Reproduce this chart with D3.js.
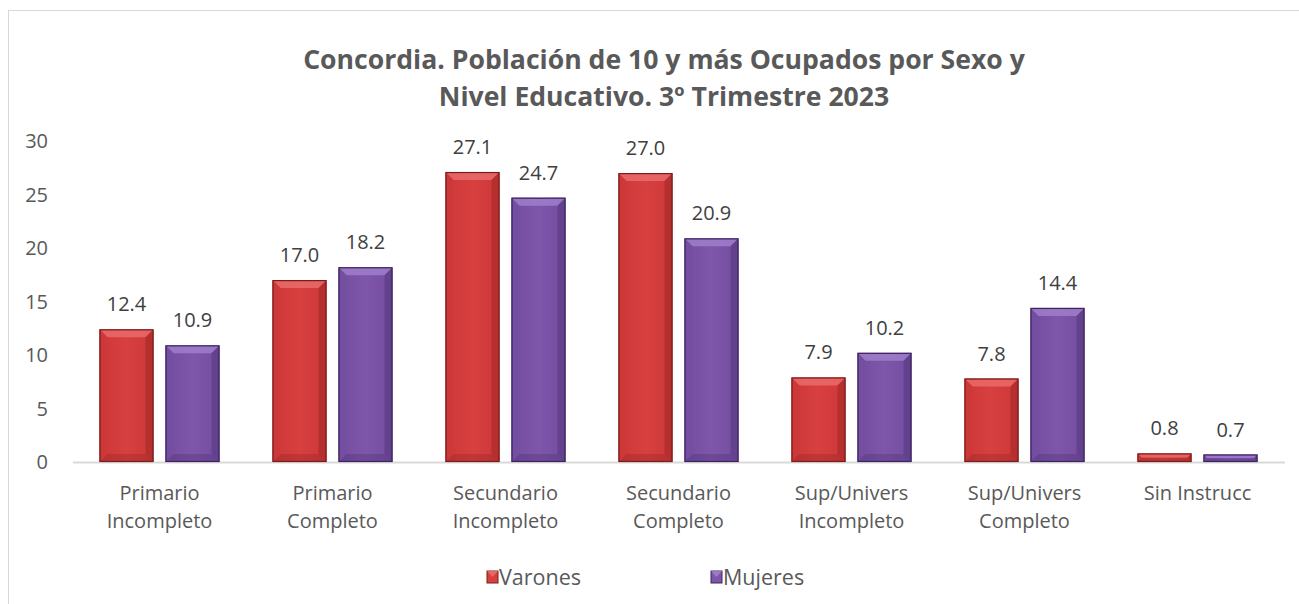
<!DOCTYPE html>
<html><head><meta charset="utf-8">
<script src="https://cdn.jsdelivr.net/npm/d3@7"></script>
<style>body{margin:0;background:#fff}svg{display:block}</style>
</head><body>
<svg id="c" width="1299" height="604"></svg>
<script>
const categories = [["Primario","Incompleto"],["Primario","Completo"],["Secundario","Incompleto"],["Secundario","Completo"],["Sup/Univers","Incompleto"],["Sup/Univers","Completo"],["Sin Instrucc"]];
const varones = [12.4,17.0,27.1,27.0,7.9,7.8,0.8];
const mujeres = [10.9,18.2,24.7,20.9,10.2,14.4,0.7];
const yTicks = [0,5,10,15,20,25,30];
const seriesNames = ["Varones","Mujeres"];
const titleLines = ["Concordia. Población de 10 y más Ocupados por Sexo y","Nivel Educativo. 3º Trimestre 2023"];

const svg = d3.select("#c");
const W=1299,H=604;
const FONT="Open Sans, sans-serif";
svg.append("rect").attr("x",8.5).attr("y",10.5).attr("width",W+10).attr("height",H+10).attr("fill","#fff").attr("stroke","#d9d9d9").attr("stroke-width",1);

const x0 = d3.scaleBand().domain(d3.range(categories.length)).range([73,1284]);
const y = d3.scaleLinear().domain([0,30]).range([462,141]);
const bw=54, gap=12;

const defs = svg.append("defs");
const colors = [{base:"#d84040",dark:"#7a1c1c",light:"#ec7272",mid:"#cc3737"},{base:"#7e56aa",dark:"#3d2460",light:"#a584cf",mid:"#734d9f"}];
colors.forEach((c,i)=>{
  const g=defs.append("linearGradient").attr("id","g"+i).attr("x1",0).attr("x2",1).attr("y1",0).attr("y2",0);
  g.append("stop").attr("offset","0%").attr("stop-color",c.mid);
  g.append("stop").attr("offset","50%").attr("stop-color",c.base);
  g.append("stop").attr("offset","100%").attr("stop-color",c.mid);
});

svg.append("line").attr("x1",73).attr("x2",1285).attr("y1",y(0)+0.5).attr("y2",y(0)+0.5).attr("stroke","#d9d9d9").attr("stroke-width",2);

svg.append("g").selectAll("text").data(yTicks).join("text")
  .attr("x",48).attr("y",d=>y(d)).attr("dy","0.35em").attr("text-anchor","end")
  .attr("font-family",FONT).attr("font-size",20).attr("fill","#595959").text(d=>d);

const data=[varones,mujeres];
function drawBar(g,xL,v,ci){
  const c=colors[ci];
  const top=y(v), bot=y(0), h=bot-top;
  const b=Math.min(8,h/2,bw/2);
  g.append("rect").attr("x",xL).attr("y",top).attr("width",bw).attr("height",h).attr("fill","url(#g"+ci+")");
  g.append("polygon").attr("points",[[xL,top],[xL+bw,top],[xL+bw-b,top+b],[xL+b,top+b]].join(" ")).attr("fill",c.light).attr("opacity",0.75);
  g.append("polygon").attr("points",[[xL,top],[xL+b,top+b],[xL+b,bot-b],[xL,bot]].join(" ")).attr("fill",c.mid).attr("opacity",0.5);
  g.append("polygon").attr("points",[[xL+bw,top],[xL+bw-b,top+b],[xL+bw-b,bot-b],[xL+bw,bot]].join(" ")).attr("fill",c.dark).attr("opacity",0.3);
  g.append("polygon").attr("points",[[xL,bot],[xL+b,bot-b],[xL+bw-b,bot-b],[xL+bw,bot]].join(" ")).attr("fill",c.dark).attr("opacity",0.25);
  g.append("rect").attr("x",xL+0.5).attr("y",top+0.5).attr("width",bw-1).attr("height",Math.max(0,h-1)).attr("fill","none").attr("stroke",c.dark).attr("stroke-width",1.2);
}
const gb=svg.append("g");
categories.forEach((cat,i)=>{
  const cx=x0(i)+x0.bandwidth()/2;
  data.forEach((arr,s)=>{
    const xL = s===0 ? cx-gap/2-bw : cx+gap/2;
    drawBar(gb,xL,arr[i],s);
    gb.append("text").attr("x",xL+bw/2).attr("y",y(arr[i])-18).attr("text-anchor","middle")
      .attr("font-family",FONT).attr("font-size",20).attr("fill","#404040").text(arr[i].toFixed(1));
  });
  const t=gb.append("text").attr("text-anchor","middle").attr("font-family",FONT).attr("font-size",20).attr("fill","#595959");
  cat.forEach((l,k)=>t.append("tspan").attr("x",cx).attr("y",500+k*28).text(l));
});

const tt=svg.append("text").attr("text-anchor","middle").attr("font-family",FONT).attr("font-weight","bold").attr("font-size",26.6).attr("fill","#595959");
titleLines.forEach((l,k)=>tt.append("tspan").attr("x",664).attr("y",69+k*37).text(l));

const leg=[{x:487,c:0},{x:711,c:1}];
leg.forEach((L,i)=>{
  const c=colors[L.c];
  svg.append("rect").attr("x",L.x).attr("y",571).attr("width",11).attr("height",12).attr("fill",c.base).attr("stroke",c.dark).attr("stroke-width",1);
  svg.append("polygon").attr("points",[[L.x,571],[L.x+11,571],[L.x+5.5,577]].join(" ")).attr("fill",c.light).attr("opacity",0.8);
  svg.append("text").attr("x",L.x+12).attr("y",577).attr("dy","0.35em").attr("font-family",FONT).attr("font-size",21.5).attr("fill","#595959").text(seriesNames[i]);
});
</script>
</body></html>
